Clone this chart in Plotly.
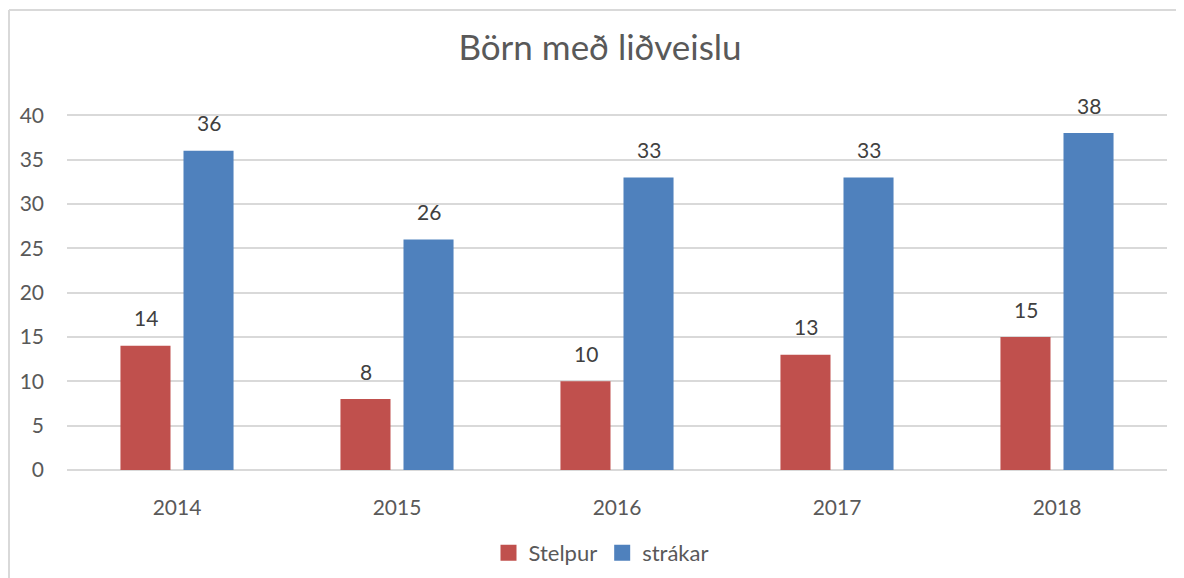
import plotly.graph_objects as go

years = ["2014", "2015", "2016", "2017", "2018"]
stelpur = [14, 8, 10, 13, 15]
strakar = [36, 26, 33, 33, 38]
series_names = ["Stelpur", "strákar"]
colors = ["#C0504D", "#4F81BD"]
y_ticks = [0, 5, 10, 15, 20, 25, 30, 35, 40]

FONT = "Lato, Carlito, Calibri, sans-serif"

# plot area in figure pixels
L, R, T, B = 59, 25, 106, 116
PW, PH = 1184 - L - R, 578 - T - B

fig = go.Figure()
for name, vals, col in zip(series_names, [stelpur, strakar], colors):
    fig.add_trace(go.Bar(x=years, y=vals, name=name, showlegend=False,
                         marker=dict(color=col, line=dict(width=0))))
    fig.add_trace(go.Scatter(x=[None], y=[None], mode="markers", name=name, showlegend=True,
                             marker=dict(symbol="square", size=16, color=col)))

annotations = []
for vals, shift in [(stelpur, -31.5), (strakar, 31.5)]:
    for i, v in enumerate(vals):
        annotations.append(dict(x=i, y=v, xref="x", yref="y", text=str(v), showarrow=False,
                                xshift=shift, yshift=28, yanchor="middle",
                                font=dict(family=FONT, size=21, color="#404040")))

fig.update_layout(
    width=1184, height=578,
    margin=dict(l=L, r=R, t=T, b=B),
    paper_bgcolor="white", plot_bgcolor="white",
    barmode="group", bargap=0.427, bargroupgap=0.206,
    title=dict(text="Börn með liðveislu", x=0.5, xanchor="center",
               y=1 - 40 / 578, yanchor="middle",
               font=dict(family=FONT, size=35, color="#595959")),
    font=dict(family=FONT, size=21, color="#595959"),
    xaxis=dict(type="category", range=[-0.5, len(years) - 0.5], showgrid=False, showline=False,
               ticks="", tickfont=dict(size=21, color="#595959"), ticklabelstandoff=23),
    yaxis=dict(range=[0, 40.15], tickvals=y_ticks, showgrid=True, gridcolor="#D9D9D9", gridwidth=1.5,
               zeroline=True, zerolinecolor="#D9D9D9", zerolinewidth=1.5, showline=False, ticks="",
               tickfont=dict(size=21, color="#595959"), ticklabelstandoff=22),
    legend=dict(orientation="h", x=(593 - L) / PW, xanchor="center", y=-(545 - (T + PH)) / PH,
                yanchor="middle", font=dict(family=FONT, size=22, color="#595959"),
                itemwidth=30, tracegroupgap=0),
    annotations=annotations,
    showlegend=True,
)

# chart border (left and top edges visible in the reference)
bx = (1 - L) / PW
by_top = ((T + PH) - 2) / PH
fig.add_shape(type="line", xref="paper", yref="paper", x0=bx, x1=bx,
              y0=-(600 - (T + PH)) / PH, y1=by_top,
              line=dict(color="#D9D9D9", width=2), layer="below")
fig.add_shape(type="line", xref="paper", yref="paper", x0=bx, x1=(1250 - L) / PW,
              y0=by_top, y1=by_top,
              line=dict(color="#D9D9D9", width=2), layer="below")

fig.write_html("out.html")
